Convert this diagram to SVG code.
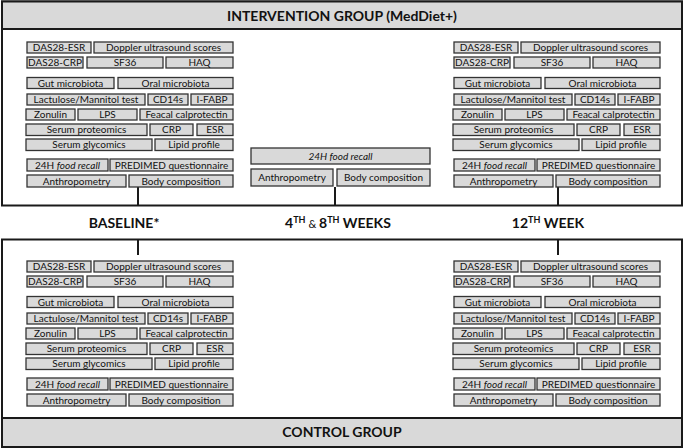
<svg xmlns="http://www.w3.org/2000/svg" width="685" height="448" viewBox="0 0 685 448">
<style>
.frame{fill:#fff;stroke:#1a1a1a;stroke-width:2}
.band{fill:#d9d9d9;stroke:#1a1a1a;stroke-width:2}
.b{fill:#d9d9d9;stroke:#333;stroke-width:1.3}
.t{font-family:Lato,"Open Sans","Liberation Sans",sans-serif;font-size:10px;fill:#111;text-anchor:middle}
.h{font-family:Lato,"Open Sans","Liberation Sans",sans-serif;font-size:14px;font-weight:bold;fill:#111;text-anchor:middle}
.c{stroke:#1a1a1a;stroke-width:2;fill:none}
.i{font-style:italic}
</style>
<g id="intervention-group">
<rect class="frame" x="2" y="1.5" width="680" height="204"/>
<rect class="band" x="2" y="1.5" width="680" height="27.5"/>
<text class="h" x="342" y="21">INTERVENTION GROUP (MedDiet+)</text>
</g>
<g id="control-group">
<rect class="frame" x="2" y="239.5" width="680" height="207.5"/>
<rect class="band" x="2" y="418" width="680" height="29"/>
<text class="h" x="342" y="437">CONTROL GROUP</text>
</g>
<g id="timepoints">
<text id="label-baseline" class="h" x="124" y="228" font-size="13.5">BASELINE*</text>
<text id="label-weeks48" class="h" x="338" y="228">4<tspan font-size="9" dy="-5">TH</tspan><tspan dy="5" font-size="11" font-weight="normal"> &amp; </tspan>8<tspan font-size="9" dy="-5">TH</tspan><tspan dy="5"> WEEKS</tspan></text>
<text id="label-week12" class="h" x="548" y="228">12<tspan font-size="9" dy="-5">TH</tspan><tspan dy="5"> WEEK</tspan></text>
</g>
<g id="connectors">
<line class="c" x1="138" y1="187" x2="138" y2="205"/>
<line class="c" x1="335" y1="187" x2="335" y2="205"/>
<line class="c" x1="558" y1="187" x2="558" y2="205"/>
<line class="c" x1="138" y1="239" x2="138" y2="255"/>
<line class="c" x1="558" y1="239" x2="558" y2="255"/>
</g>
<g id="intervention-baseline" transform="translate(0,0)">
<g id="ib-das28esr"><rect class="b" x="27" y="42" width="64" height="11"/><text class="t" x="59" y="51">DAS28-ESR</text></g>
<g id="ib-doppler"><rect class="b" x="94" y="42" width="139" height="11"/><text class="t" x="163.5" y="51">Doppler ultrasound scores</text></g>
<g id="ib-das28crp"><rect class="b" x="27" y="57" width="56" height="11"/><text class="t" x="55" y="66">DAS28-CRP</text></g>
<g id="ib-sf36"><rect class="b" x="87" y="57" width="76" height="11"/><text class="t" x="125" y="66">SF36</text></g>
<g id="ib-haq"><rect class="b" x="166" y="57" width="67" height="11"/><text class="t" x="199.5" y="66">HAQ</text></g>
<g id="ib-gut"><rect class="b" x="27" y="77.5" width="87" height="11"/><text class="t" x="70.5" y="86.5">Gut microbiota</text></g>
<g id="ib-oral"><rect class="b" x="118" y="77.5" width="115" height="11"/><text class="t" x="175.5" y="86.5">Oral microbiota</text></g>
<g id="ib-lactulose"><rect class="b" x="27" y="94" width="118" height="11"/><text class="t" x="86" y="103">Lactulose/Mannitol test</text></g>
<g id="ib-cd14s"><rect class="b" x="148" y="94" width="40" height="11"/><text class="t" x="168" y="103">CD14s</text></g>
<g id="ib-ifabp"><rect class="b" x="191" y="94" width="42" height="11"/><text class="t" x="212" y="103">I-FABP</text></g>
<g id="ib-zonulin"><rect class="b" x="26" y="109" width="49" height="11"/><text class="t" x="50.5" y="118">Zonulin</text></g>
<g id="ib-lps"><rect class="b" x="78" y="109" width="59" height="11"/><text class="t" x="107.5" y="118">LPS</text></g>
<g id="ib-feacal"><rect class="b" x="140" y="109" width="93" height="11"/><text class="t" x="186.5" y="118">Feacal calprotectin</text></g>
<g id="ib-proteomics"><rect class="b" x="26" y="124" width="121" height="11.5"/><text class="t" x="86.5" y="133.2">Serum proteomics</text></g>
<g id="ib-crp"><rect class="b" x="150" y="124" width="43" height="11.5"/><text class="t" x="171.5" y="133.2">CRP</text></g>
<g id="ib-esr"><rect class="b" x="197" y="124" width="36" height="11.5"/><text class="t" x="215" y="133.2">ESR</text></g>
<g id="ib-glycomics"><rect class="b" x="26" y="139" width="126" height="11.5"/><text class="t" x="89" y="148.2">Serum glycomics</text></g>
<g id="ib-lipid"><rect class="b" x="155" y="139" width="78" height="11.5"/><text class="t" x="194" y="148.2">Lipid profile</text></g>
<g id="ib-recall"><rect class="b" x="27" y="159" width="81" height="12"/><text class="t" x="67.5" y="168.5">24H <tspan class="i">food recall</tspan></text></g>
<g id="ib-predimed"><rect class="b" x="110" y="159" width="123" height="12"/><text class="t" x="171.5" y="168.5">PREDIMED questionnaire</text></g>
<g id="ib-anthropometry"><rect class="b" x="27" y="175" width="99" height="12"/><text class="t" x="76.5" y="184.5">Anthropometry</text></g>
<g id="ib-bodycomp"><rect class="b" x="129" y="175" width="104" height="12"/><text class="t" x="181" y="184.5">Body composition</text></g>
</g>
<g id="intervention-weeks48">
<g id="iw-recall"><rect class="b" x="251" y="148" width="179" height="16"/><text class="t i" x="340.5" y="159.5">24H food recall</text></g>
<g id="iw-anthropometry"><rect class="b" x="251" y="169" width="82" height="17"/><text class="t" x="292" y="181">Anthropometry</text></g>
<g id="iw-bodycomp"><rect class="b" x="337" y="169" width="93" height="17"/><text class="t" x="383.5" y="181">Body composition</text></g>
</g>
<g id="intervention-week12" transform="translate(427,0)">
<g id="i12-das28esr"><rect class="b" x="27" y="42" width="64" height="11"/><text class="t" x="59" y="51">DAS28-ESR</text></g>
<g id="i12-doppler"><rect class="b" x="94" y="42" width="139" height="11"/><text class="t" x="163.5" y="51">Doppler ultrasound scores</text></g>
<g id="i12-das28crp"><rect class="b" x="27" y="57" width="56" height="11"/><text class="t" x="55" y="66">DAS28-CRP</text></g>
<g id="i12-sf36"><rect class="b" x="87" y="57" width="76" height="11"/><text class="t" x="125" y="66">SF36</text></g>
<g id="i12-haq"><rect class="b" x="166" y="57" width="67" height="11"/><text class="t" x="199.5" y="66">HAQ</text></g>
<g id="i12-gut"><rect class="b" x="27" y="77.5" width="87" height="11"/><text class="t" x="70.5" y="86.5">Gut microbiota</text></g>
<g id="i12-oral"><rect class="b" x="118" y="77.5" width="115" height="11"/><text class="t" x="175.5" y="86.5">Oral microbiota</text></g>
<g id="i12-lactulose"><rect class="b" x="27" y="94" width="118" height="11"/><text class="t" x="86" y="103">Lactulose/Mannitol test</text></g>
<g id="i12-cd14s"><rect class="b" x="148" y="94" width="40" height="11"/><text class="t" x="168" y="103">CD14s</text></g>
<g id="i12-ifabp"><rect class="b" x="191" y="94" width="42" height="11"/><text class="t" x="212" y="103">I-FABP</text></g>
<g id="i12-zonulin"><rect class="b" x="26" y="109" width="49" height="11"/><text class="t" x="50.5" y="118">Zonulin</text></g>
<g id="i12-lps"><rect class="b" x="78" y="109" width="59" height="11"/><text class="t" x="107.5" y="118">LPS</text></g>
<g id="i12-feacal"><rect class="b" x="140" y="109" width="93" height="11"/><text class="t" x="186.5" y="118">Feacal calprotectin</text></g>
<g id="i12-proteomics"><rect class="b" x="26" y="124" width="121" height="11.5"/><text class="t" x="86.5" y="133.2">Serum proteomics</text></g>
<g id="i12-crp"><rect class="b" x="150" y="124" width="43" height="11.5"/><text class="t" x="171.5" y="133.2">CRP</text></g>
<g id="i12-esr"><rect class="b" x="197" y="124" width="36" height="11.5"/><text class="t" x="215" y="133.2">ESR</text></g>
<g id="i12-glycomics"><rect class="b" x="26" y="139" width="126" height="11.5"/><text class="t" x="89" y="148.2">Serum glycomics</text></g>
<g id="i12-lipid"><rect class="b" x="155" y="139" width="78" height="11.5"/><text class="t" x="194" y="148.2">Lipid profile</text></g>
<g id="i12-recall"><rect class="b" x="27" y="159" width="81" height="12"/><text class="t" x="67.5" y="168.5">24H <tspan class="i">food recall</tspan></text></g>
<g id="i12-predimed"><rect class="b" x="110" y="159" width="123" height="12"/><text class="t" x="171.5" y="168.5">PREDIMED questionnaire</text></g>
<g id="i12-anthropometry"><rect class="b" x="27" y="175" width="99" height="12"/><text class="t" x="76.5" y="184.5">Anthropometry</text></g>
<g id="i12-bodycomp"><rect class="b" x="129" y="175" width="104" height="12"/><text class="t" x="181" y="184.5">Body composition</text></g>
</g>
<g id="control-baseline" transform="translate(0,219)">
<g id="cb-das28esr"><rect class="b" x="27" y="42" width="64" height="11"/><text class="t" x="59" y="51">DAS28-ESR</text></g>
<g id="cb-doppler"><rect class="b" x="94" y="42" width="139" height="11"/><text class="t" x="163.5" y="51">Doppler ultrasound scores</text></g>
<g id="cb-das28crp"><rect class="b" x="27" y="57" width="56" height="11"/><text class="t" x="55" y="66">DAS28-CRP</text></g>
<g id="cb-sf36"><rect class="b" x="87" y="57" width="76" height="11"/><text class="t" x="125" y="66">SF36</text></g>
<g id="cb-haq"><rect class="b" x="166" y="57" width="67" height="11"/><text class="t" x="199.5" y="66">HAQ</text></g>
<g id="cb-gut"><rect class="b" x="27" y="77.5" width="87" height="11"/><text class="t" x="70.5" y="86.5">Gut microbiota</text></g>
<g id="cb-oral"><rect class="b" x="118" y="77.5" width="115" height="11"/><text class="t" x="175.5" y="86.5">Oral microbiota</text></g>
<g id="cb-lactulose"><rect class="b" x="27" y="94" width="118" height="11"/><text class="t" x="86" y="103">Lactulose/Mannitol test</text></g>
<g id="cb-cd14s"><rect class="b" x="148" y="94" width="40" height="11"/><text class="t" x="168" y="103">CD14s</text></g>
<g id="cb-ifabp"><rect class="b" x="191" y="94" width="42" height="11"/><text class="t" x="212" y="103">I-FABP</text></g>
<g id="cb-zonulin"><rect class="b" x="26" y="109" width="49" height="11"/><text class="t" x="50.5" y="118">Zonulin</text></g>
<g id="cb-lps"><rect class="b" x="78" y="109" width="59" height="11"/><text class="t" x="107.5" y="118">LPS</text></g>
<g id="cb-feacal"><rect class="b" x="140" y="109" width="93" height="11"/><text class="t" x="186.5" y="118">Feacal calprotectin</text></g>
<g id="cb-proteomics"><rect class="b" x="26" y="124" width="121" height="11.5"/><text class="t" x="86.5" y="133.2">Serum proteomics</text></g>
<g id="cb-crp"><rect class="b" x="150" y="124" width="43" height="11.5"/><text class="t" x="171.5" y="133.2">CRP</text></g>
<g id="cb-esr"><rect class="b" x="197" y="124" width="36" height="11.5"/><text class="t" x="215" y="133.2">ESR</text></g>
<g id="cb-glycomics"><rect class="b" x="26" y="139" width="126" height="11.5"/><text class="t" x="89" y="148.2">Serum glycomics</text></g>
<g id="cb-lipid"><rect class="b" x="155" y="139" width="78" height="11.5"/><text class="t" x="194" y="148.2">Lipid profile</text></g>
<g id="cb-recall"><rect class="b" x="27" y="159" width="81" height="12"/><text class="t" x="67.5" y="168.5">24H <tspan class="i">food recall</tspan></text></g>
<g id="cb-predimed"><rect class="b" x="110" y="159" width="123" height="12"/><text class="t" x="171.5" y="168.5">PREDIMED questionnaire</text></g>
<g id="cb-anthropometry"><rect class="b" x="27" y="175" width="99" height="12"/><text class="t" x="76.5" y="184.5">Anthropometry</text></g>
<g id="cb-bodycomp"><rect class="b" x="129" y="175" width="104" height="12"/><text class="t" x="181" y="184.5">Body composition</text></g>
</g>
<g id="control-week12" transform="translate(427,219)">
<g id="c12-das28esr"><rect class="b" x="27" y="42" width="64" height="11"/><text class="t" x="59" y="51">DAS28-ESR</text></g>
<g id="c12-doppler"><rect class="b" x="94" y="42" width="139" height="11"/><text class="t" x="163.5" y="51">Doppler ultrasound scores</text></g>
<g id="c12-das28crp"><rect class="b" x="27" y="57" width="56" height="11"/><text class="t" x="55" y="66">DAS28-CRP</text></g>
<g id="c12-sf36"><rect class="b" x="87" y="57" width="76" height="11"/><text class="t" x="125" y="66">SF36</text></g>
<g id="c12-haq"><rect class="b" x="166" y="57" width="67" height="11"/><text class="t" x="199.5" y="66">HAQ</text></g>
<g id="c12-gut"><rect class="b" x="27" y="77.5" width="87" height="11"/><text class="t" x="70.5" y="86.5">Gut microbiota</text></g>
<g id="c12-oral"><rect class="b" x="118" y="77.5" width="115" height="11"/><text class="t" x="175.5" y="86.5">Oral microbiota</text></g>
<g id="c12-lactulose"><rect class="b" x="27" y="94" width="118" height="11"/><text class="t" x="86" y="103">Lactulose/Mannitol test</text></g>
<g id="c12-cd14s"><rect class="b" x="148" y="94" width="40" height="11"/><text class="t" x="168" y="103">CD14s</text></g>
<g id="c12-ifabp"><rect class="b" x="191" y="94" width="42" height="11"/><text class="t" x="212" y="103">I-FABP</text></g>
<g id="c12-zonulin"><rect class="b" x="26" y="109" width="49" height="11"/><text class="t" x="50.5" y="118">Zonulin</text></g>
<g id="c12-lps"><rect class="b" x="78" y="109" width="59" height="11"/><text class="t" x="107.5" y="118">LPS</text></g>
<g id="c12-feacal"><rect class="b" x="140" y="109" width="93" height="11"/><text class="t" x="186.5" y="118">Feacal calprotectin</text></g>
<g id="c12-proteomics"><rect class="b" x="26" y="124" width="121" height="11.5"/><text class="t" x="86.5" y="133.2">Serum proteomics</text></g>
<g id="c12-crp"><rect class="b" x="150" y="124" width="43" height="11.5"/><text class="t" x="171.5" y="133.2">CRP</text></g>
<g id="c12-esr"><rect class="b" x="197" y="124" width="36" height="11.5"/><text class="t" x="215" y="133.2">ESR</text></g>
<g id="c12-glycomics"><rect class="b" x="26" y="139" width="126" height="11.5"/><text class="t" x="89" y="148.2">Serum glycomics</text></g>
<g id="c12-lipid"><rect class="b" x="155" y="139" width="78" height="11.5"/><text class="t" x="194" y="148.2">Lipid profile</text></g>
<g id="c12-recall"><rect class="b" x="27" y="159" width="81" height="12"/><text class="t" x="67.5" y="168.5">24H <tspan class="i">food recall</tspan></text></g>
<g id="c12-predimed"><rect class="b" x="110" y="159" width="123" height="12"/><text class="t" x="171.5" y="168.5">PREDIMED questionnaire</text></g>
<g id="c12-anthropometry"><rect class="b" x="27" y="175" width="99" height="12"/><text class="t" x="76.5" y="184.5">Anthropometry</text></g>
<g id="c12-bodycomp"><rect class="b" x="129" y="175" width="104" height="12"/><text class="t" x="181" y="184.5">Body composition</text></g>
</g>
</svg>
